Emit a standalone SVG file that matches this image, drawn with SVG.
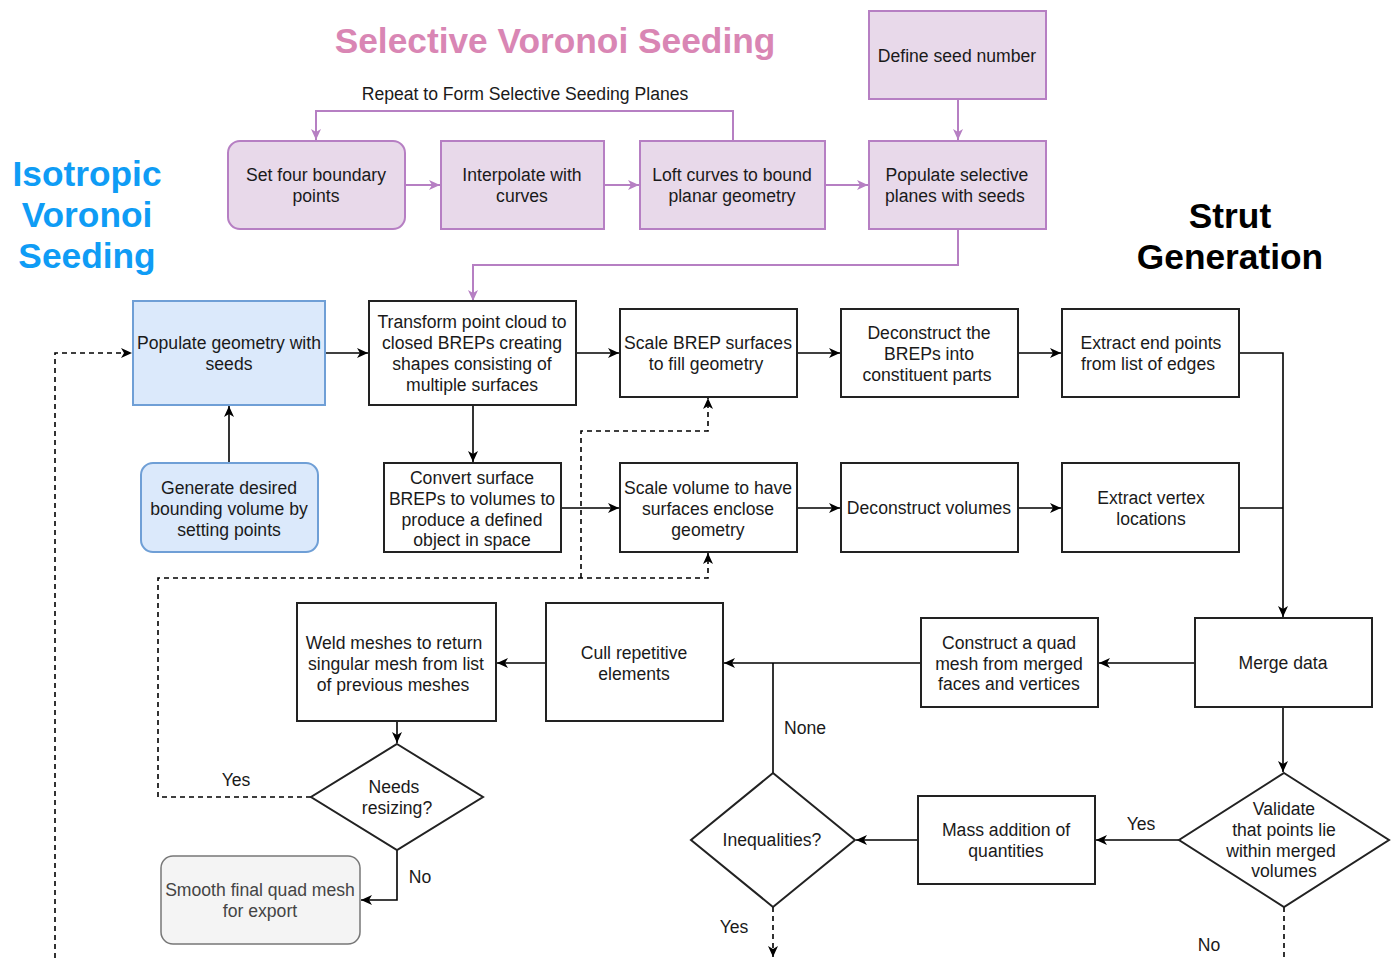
<svg xmlns="http://www.w3.org/2000/svg" width="1395" height="958" viewBox="0 0 1395 958">
<defs>
<marker id="ab" markerUnits="userSpaceOnUse" markerWidth="12" markerHeight="10" refX="11" refY="5" orient="auto">
<path d="M0,0 L11,5 L0,10 L3,5 z" fill="#000"/>
</marker>
<marker id="ap" markerUnits="userSpaceOnUse" markerWidth="12" markerHeight="10" refX="11" refY="5" orient="auto">
<path d="M0,0 L11,5 L0,10 L3,5 z" fill="#b67fc3"/>
</marker>
<style>
text{font-family:"Liberation Sans",Arial,sans-serif;font-size:17.6px;fill:#1a1a1a;text-anchor:middle}
.t{font-weight:bold;font-size:35.3px}
.pk{fill:#d986b4}
.bl{fill:#0f9cf5}
.bk{fill:#000}
.p{fill:#e8d9ea;stroke:#b67fc3;stroke-width:2}
.b{fill:#dbe9fb;stroke:#6f9fd6;stroke-width:2}
.k{fill:#fff;stroke:#222;stroke-width:2}
.g{fill:#f4f4f4;stroke:#777;stroke-width:1.5}
.gt{fill:#444}
.c{fill:none;stroke:#000;stroke-width:1.6}
.cp{fill:none;stroke:#b67fc3;stroke-width:2}
.d{stroke-dasharray:5,4}
</style>
</defs>

<g id="titles">
<text class="t pk" x="555" y="53">Selective Voronoi Seeding</text>
<text class="t bl" x="87" y="186">Isotropic</text>
<text class="t bl" x="87" y="227">Voronoi</text>
<text class="t bl" x="87" y="268">Seeding</text>
<text class="t bk" x="1230" y="228">Strut</text>
<text class="t bk" x="1230" y="269">Generation</text>
</g>

<g id="connectors">
<path class="cp" d="M733,141 V111 H316 V140" marker-end="url(#ap)"/>
<path class="cp" d="M405,185 H440" marker-end="url(#ap)"/>
<path class="cp" d="M604,185 H639" marker-end="url(#ap)"/>
<path class="cp" d="M825,185 H868" marker-end="url(#ap)"/>
<path class="cp" d="M958,99 V140" marker-end="url(#ap)"/>
<path class="cp" d="M958,229 V265 H473 V301" marker-end="url(#ap)"/>
<path class="c" d="M229,463 V406" marker-end="url(#ab)"/>
<path class="c" d="M325,353 H368" marker-end="url(#ab)"/>
<path class="c" d="M576,353 H619" marker-end="url(#ab)"/>
<path class="c" d="M797,353 H840" marker-end="url(#ab)"/>
<path class="c" d="M1018,353 H1061" marker-end="url(#ab)"/>
<path class="c" d="M473,405 V462" marker-end="url(#ab)"/>
<path class="c" d="M561,508 H619" marker-end="url(#ab)"/>
<path class="c" d="M797,508 H840" marker-end="url(#ab)"/>
<path class="c" d="M1018,508 H1061" marker-end="url(#ab)"/>
<path class="c" d="M1239,353 H1283 V617" marker-end="url(#ab)"/>
<path class="c" d="M1239,508 H1283"/>
<path class="c" d="M1195,663 H1099" marker-end="url(#ab)"/>
<path class="c" d="M921,663 H724" marker-end="url(#ab)"/>
<path class="c" d="M546,663 H497" marker-end="url(#ab)"/>
<path class="c" d="M1283,707 V772" marker-end="url(#ab)"/>
<path class="c" d="M1179,840 H1096" marker-end="url(#ab)"/>
<path class="c" d="M918,840 H856" marker-end="url(#ab)"/>
<path class="c" d="M773,773 V663"/>
<path class="c d" d="M773,907 V957" marker-end="url(#ab)"/>
<path class="c d" d="M1284,907 V958"/>
<path class="c" d="M397,721 V743" marker-end="url(#ab)"/>
<path class="c" d="M397,850 V900 H361" marker-end="url(#ab)"/>
<path class="c d" d="M311,797 H158 V578 H708 V553" marker-end="url(#ab)"/>
<path class="c d" d="M581,578 V431 H708 V398" marker-end="url(#ab)"/>
<path class="c d" d="M55,958 V353 H132" marker-end="url(#ab)"/>
<text x="525" y="100">Repeat to Form Selective Seeding Planes</text>
<text x="805" y="734">None</text>
<text x="734" y="933">Yes</text>
<text x="1141" y="830">Yes</text>
<text x="1209" y="951">No</text>
<text x="236" y="786">Yes</text>
<text x="420" y="883">No</text>
</g>

<g id="set-four"><rect class="p" x="228" y="141" width="177" height="88" rx="12"/><text x="316" y="181">Set four boundary</text><text x="316" y="202">points</text></g>
<g id="interpolate"><rect class="p" x="441" y="141" width="163" height="88"/><text x="522" y="181">Interpolate with</text><text x="522" y="202">curves</text></g>
<g id="loft"><rect class="p" x="640" y="141" width="185" height="88"/><text x="732" y="181">Loft curves to bound</text><text x="732" y="202">planar geometry</text></g>
<g id="populate-selective"><rect class="p" x="869" y="141" width="177" height="88"/><text x="957" y="181">Populate selective</text><text x="955" y="202">planes with seeds</text></g>
<g id="define-seed"><rect class="p" x="869" y="11" width="177" height="88"/><text x="957" y="62">Define seed number</text></g>

<g id="populate-geometry"><rect class="b" x="133" y="301" width="192" height="104"/><text x="229" y="349">Populate geometry with</text><text x="229" y="370">seeds</text></g>
<g id="generate-volume"><rect class="b" x="141" y="463" width="177" height="89" rx="12"/><text x="229" y="494">Generate desired</text><text x="229" y="515">bounding volume by</text><text x="229" y="536">setting points</text></g>

<g id="transform"><rect class="k" x="369" y="301" width="207" height="104"/><text x="472" y="328">Transform point cloud to</text><text x="472" y="349">closed BREPs creating</text><text x="472" y="370">shapes consisting of</text><text x="472" y="391">multiple surfaces</text></g>
<g id="scale-brep"><rect class="k" x="620" y="309" width="177" height="88"/><text x="708" y="349">Scale BREP surfaces</text><text x="706" y="370">to fill geometry</text></g>
<g id="deconstruct-breps"><rect class="k" x="841" y="309" width="177" height="88"/><text x="929" y="339">Deconstruct the</text><text x="929" y="360">BREPs into</text><text x="927" y="381">constituent parts</text></g>
<g id="extract-end"><rect class="k" x="1062" y="309" width="177" height="88"/><text x="1151" y="349">Extract end points</text><text x="1148" y="370">from list of edges</text></g>
<g id="convert"><rect class="k" x="384" y="463" width="177" height="89"/><text x="472" y="484">Convert surface</text><text x="472" y="505">BREPs to volumes to</text><text x="472" y="526">produce a defined</text><text x="472" y="546">object in space</text></g>
<g id="scale-volume"><rect class="k" x="620" y="463" width="177" height="89"/><text x="708" y="494">Scale volume to have</text><text x="708" y="515">surfaces enclose</text><text x="708" y="536">geometry</text></g>
<g id="deconstruct-volumes"><rect class="k" x="841" y="463" width="177" height="89"/><text x="929" y="514">Deconstruct volumes</text></g>
<g id="extract-vertex"><rect class="k" x="1062" y="463" width="177" height="89"/><text x="1151" y="504">Extract vertex</text><text x="1151" y="525">locations</text></g>

<g id="weld"><rect class="k" x="297" y="603" width="199" height="118"/><text x="394" y="649">Weld meshes to return</text><text x="396" y="670">singular mesh from list</text><text x="393" y="691">of previous meshes</text></g>
<g id="cull"><rect class="k" x="546" y="603" width="177" height="118"/><text x="634" y="659">Cull repetitive</text><text x="634" y="680">elements</text></g>
<g id="construct"><rect class="k" x="921" y="618" width="177" height="89"/><text x="1009" y="649">Construct a quad</text><text x="1009" y="670">mesh from merged</text><text x="1009" y="690">faces and vertices</text></g>
<g id="merge"><rect class="k" x="1195" y="618" width="177" height="89"/><text x="1283" y="669">Merge data</text></g>
<g id="mass"><rect class="k" x="918" y="796" width="177" height="88"/><text x="1006" y="836">Mass addition of</text><text x="1006" y="857">quantities</text></g>
<g id="smooth"><rect class="g" x="161" y="856" width="199" height="88" rx="12"/><text class="gt" x="260" y="896">Smooth final quad mesh</text><text class="gt" x="260" y="917">for export</text></g>

<g id="needs-resizing"><path class="k" d="M397,744 L483,797 L397,850 L311,797 z"/><text x="394" y="793">Needs</text><text x="397" y="814">resizing?</text></g>
<g id="inequalities"><path class="k" d="M773,773 L855,840 L773,907 L691,840 z"/><text x="772" y="846">Inequalities?</text></g>
<g id="validate"><path class="k" d="M1284,773 L1389,840 L1284,907 L1179,840 z"/><text x="1284" y="815">Validate</text><text x="1284" y="836">that points lie</text><text x="1281" y="857">within merged</text><text x="1284" y="877">volumes</text></g>
</svg>
